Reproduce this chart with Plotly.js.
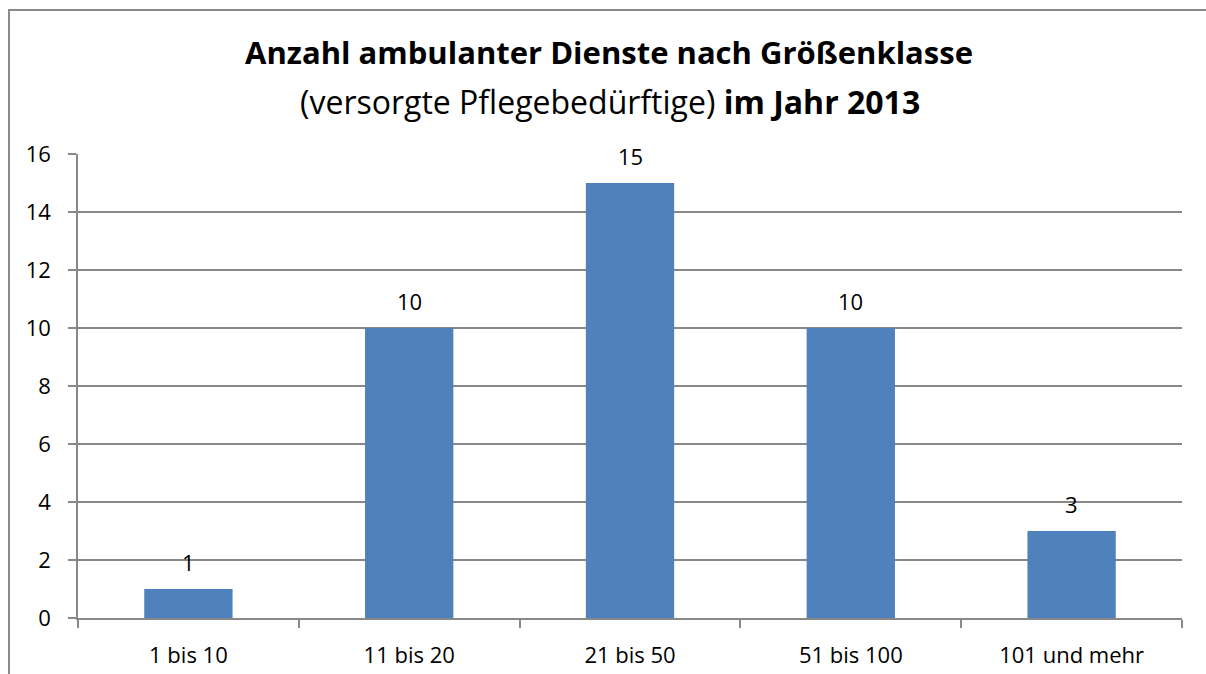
<!DOCTYPE html>
<html>
<head>
<meta charset="utf-8">
<script src="https://cdn.plot.ly/plotly-3.0.1.min.js"></script>
<style>
  html, body { margin: 0; padding: 0; background: #fff; overflow: hidden; }
  #chart { position: absolute; left: 0; top: 0; width: 1206px; height: 674px; }
  #frame { position: absolute; left: 8px; top: 9px; width: 1300px; height: 800px;
           border-left: 2px solid #8a8a8a; border-top: 2px solid #8a8a8a; pointer-events: none; }
</style>
</head>
<body>
<div id="chart"></div>
<div id="frame"></div>
<script>
const categories = ["1 bis 10", "11 bis 20", "21 bis 50", "51 bis 100", "101 und mehr"];
const values = [1, 10, 15, 10, 3];
const yTicks = [0, 2, 4, 6, 8, 10, 12, 14, 16];
const titleLine1 = "Anzahl ambulanter Dienste nach Größenklasse";
const titleLine2a = "(versorgte Pflegebedürftige) ";
const titleLine2b = "im Jahr 2013";

const FONT = "Open Sans, sans-serif";
const GRAY = "#888888";

const trace = {
  type: "bar",
  x: categories,
  y: values,
  marker: { color: "#4F81BD" },
  cliponaxis: false,
  hoverinfo: "x+y"
};

const valueLabels = categories.map((c, i) => ({
  x: c,
  y: values[i],
  xref: "x",
  yref: "y",
  text: String(values[i]),
  showarrow: false,
  xanchor: "center",
  yanchor: "middle",
  yshift: 27,
  font: { family: FONT, size: 22, color: "#000" }
}));

const subtitle = {
  xref: "paper",
  yref: "paper",
  x: 0.482,
  y: 1,
  xanchor: "center",
  yanchor: "middle",
  yshift: 53,
  showarrow: false,
  text: titleLine2a + "<b>" + titleLine2b + "</b>",
  font: { family: FONT, size: 32, color: "#000" }
};

const layout = {
  width: 1206,
  height: 674,
  margin: { l: 78, r: 24, t: 154, b: 56 },
  paper_bgcolor: "#fff",
  plot_bgcolor: "#fff",
  bargap: 0.6,
  showlegend: false,
  title: {
    text: "<b>" + titleLine1 + "</b>",
    x: 0.505,
    xanchor: "center",
    y: 0.921,
    yanchor: "middle",
    font: { family: FONT, size: 31, color: "#000" }
  },
  annotations: [subtitle].concat(valueLabels),
  xaxis: {
    type: "category",
    tickson: "boundaries",
    ticks: "outside",
    ticklen: 8,
    tickwidth: 1.5,
    tickcolor: GRAY,
    showline: true,
    linecolor: GRAY,
    linewidth: 1.5,
    showgrid: false,
    tickfont: { family: FONT, size: 22, color: "#000" },
    ticklabelstandoff: 17
  },
  yaxis: {
    range: [0, 16],
    tickvals: yTicks,
    ticktext: yTicks.map(String),
    ticks: "outside",
    ticklen: 8,
    tickwidth: 1.5,
    tickcolor: GRAY,
    showline: true,
    linecolor: GRAY,
    linewidth: 1.5,
    showgrid: true,
    gridcolor: GRAY,
    gridwidth: 1.5,
    zeroline: false,
    tickfont: { family: FONT, size: 22, color: "#000" },
    ticklabelstandoff: 13
  }
};

Plotly.newPlot("chart", [trace], layout, { displayModeBar: false });
</script>
</body>
</html>
